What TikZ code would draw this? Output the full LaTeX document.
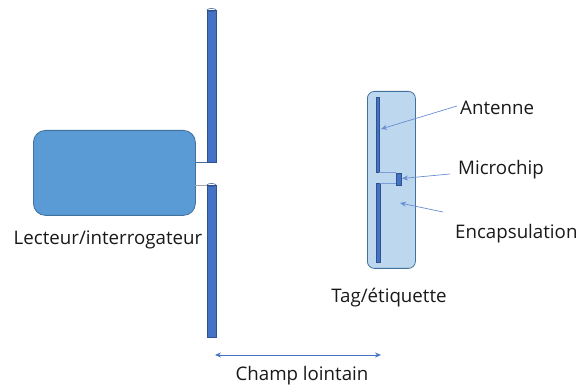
\documentclass[tikz,border=0pt]{standalone}
\usepackage{fontspec}
\setmainfont{Open Sans}
\usetikzlibrary{arrows.meta}
\definecolor{rbox}{HTML}{5B9BD5}
\definecolor{rline}{HTML}{41719C}
\definecolor{dip}{HTML}{4472C4}
\definecolor{dipline}{HTML}{2F528F}
\definecolor{tagfill}{HTML}{BDD7EE}
\definecolor{arr}{HTML}{4472C4}
\tikzset{
  lbl/.style={font=\fontsize{18.7}{20}\selectfont, text=black!90, inner sep=0pt},
  dipole/.style={fill=dip, draw=dipline, line width=0.6pt},
  pointer/.style={draw=arr!80, line width=0.7pt, -{Stealth[length=6pt,width=5pt]}},
}
\begin{document}
\begin{tikzpicture}[x=1pt,y=-1pt]
\useasboundingbox (0,0) rectangle (576,390);
% reader
\node[draw=rline, fill=rbox, line width=0.8pt, rounded corners=12pt, minimum width=162pt, minimum height=85pt, anchor=north west] (reader) at (33,130) {};
% feed lines
\coordinate (f1) at (195,162);
\coordinate (f2) at (195,185);
\draw[rline, line width=0.8pt] (f1) -- (208,162);
\draw[gray!70, line width=0.8pt] (f2) -- (208,185);
% dipoles
\node[dipole, minimum width=9pt, minimum height=152pt, anchor=north west, inner sep=0pt] (dup) at (207,10) {};
\draw[dipline, line width=0.5pt] (211.5,10) ellipse (4.5pt and 1.5pt);
\node[dipole, minimum width=9pt, minimum height=152pt, anchor=north west, inner sep=0pt] (dlo) at (207,185) {};
\draw[dipline, line width=0.5pt] (211.5,185) ellipse (4.5pt and 1.5pt);
\node[lbl, anchor=center] (lreader) at (108,240) {Lecteur/interrogateur};
% tag
\node[draw=rline, fill=tagfill, line width=0.8pt, rounded corners=7pt, minimum width=48pt, minimum height=177pt, anchor=north west] (tag) at (367,91) {};
\node[fill=dip, draw=dipline, line width=0.4pt, minimum width=3.5pt, minimum height=75pt, anchor=north west, inner sep=0pt] (aup) at (375.5,97) {};
\node[fill=dip, draw=dipline, line width=0.4pt, minimum width=3.5pt, minimum height=79pt, anchor=north west, inner sep=0pt] (alo) at (376,183) {};
\node[fill=dip, draw=dipline, line width=0.5pt, minimum width=5pt, minimum height=12pt, anchor=north west, inner sep=0pt] (chip) at (396,173) {};
\draw[arr!70, line width=0.6pt] (aup.south east) -- (aup.south east -| chip.west);
\draw[arr!70, line width=0.6pt] (alo.north east) -- (alo.north east -| chip.west);
\node[lbl, anchor=center] (ltag) at (389,298) {Tag/étiquette};
% labels and pointers
\node[lbl, anchor=west] (lant) at (460,108) {Antenne};
\node[lbl, anchor=west] (lchip) at (458,170) {Microchip};
\node[lbl, anchor=west] (lenc) at (455,234) {Encapsulation};
\coordinate (p1) at (457,106);
\coordinate (p2) at (450,174);
\coordinate (p3) at (443,212);
\draw[pointer] (p1) -- (381,129);
\draw[pointer] (p2) -- (402,178.5);
\draw[pointer] (p3) -- (400,203);
% far field
\coordinate (c1) at (215,355);
\coordinate (c2) at (381,355);
\draw[arr, line width=0.7pt, {Stealth[length=6pt,width=5pt]}-{Stealth[length=6pt,width=5pt]}] (c1) -- (c2);
\node[lbl, anchor=center] (lchamp) at (302,376) {Champ lointain};
\end{tikzpicture}
\end{document}
